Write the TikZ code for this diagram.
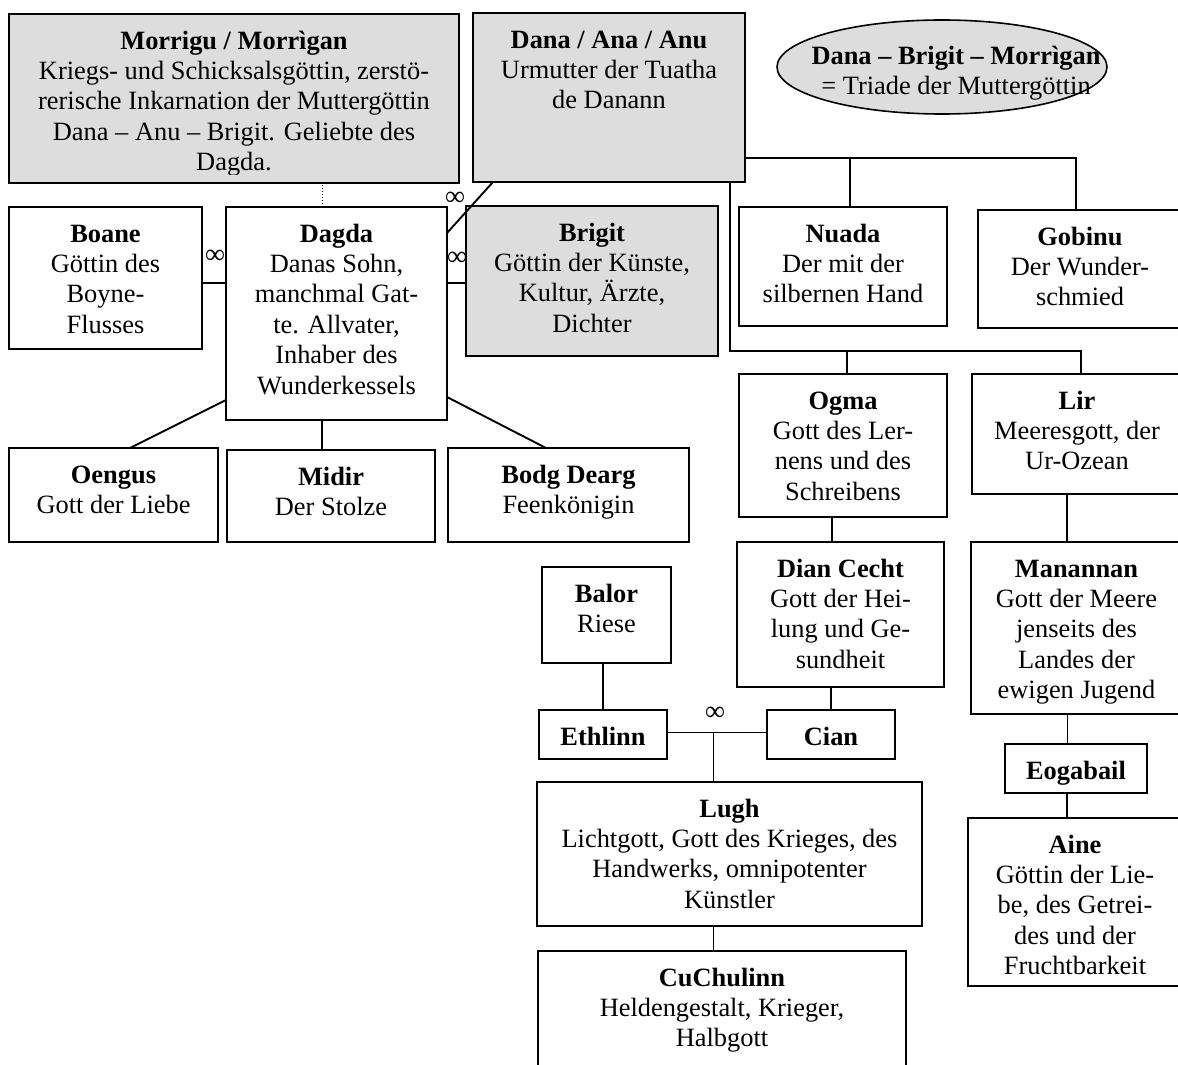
\documentclass[tikz,border=0pt]{standalone}
\usepackage{fontspec}
\setmainfont{Liberation Serif}
\usetikzlibrary{shapes.geometric}
\definecolor{boxgray}{RGB}{221,221,221}
\newcommand{\gtxt}[4]{\parbox[c][#2pt][t]{#1pt}{\centering\rule{0pt}{35pt}\textbf{#3}\\#4}}
\newcommand{\gname}[3]{\parbox[c][#2pt][t]{#1pt}{\centering\rule{0pt}{35pt}\textbf{#3}}}
\tikzset{
  god/.style={draw,line width=1.9pt,inner sep=0pt,outer sep=0pt,anchor=north west,font=\fontsize{26.4}{30.4}\selectfont},
  godgray/.style={god,fill=boxgray},
  link/.style={line width=1.9pt},
  wed/.style={inner sep=0pt,font=\fontsize{28}{30}\selectfont}
}
\begin{document}
\begin{tikzpicture}[x=1pt,y=-1pt]
\useasboundingbox (0,0) rectangle (1178,1065);
\clip (0,0) rectangle (1178,1065);
%mother goddesses
\node[godgray,minimum width=450pt,minimum height=169pt] (morrigu) at (9,14) {};
\begin{scope}
\clip (morrigu.north west) rectangle ([yshift=9pt]morrigu.south east);
\node[god,draw=none] (morrigu-txt) at (morrigu.north west) {\gtxt{450}{169}{Morrigu / Morrìgan}{Kriegs- und Schicksalsgöttin, zerstö-\\rerische Inkarnation der Muttergöttin\\Dana – Anu – Brigit. Geliebte des\\Dagda.}};
\end{scope}
\node[godgray] (dana) at (473,13) {\gtxt{272}{169}{Dana / Ana / Anu}{Urmutter der Tuatha\\de Danann}};
\node[ellipse,draw,fill=boxgray,line width=1.6pt,minimum width=330pt,minimum height=94pt,inner sep=0pt] (triade) at (942,67) {};
\node[anchor=base,align=center,font=\fontsize{26.4}{30.4}\selectfont] (triade-txt) at (956,95) {\textbf{Dana – Brigit – Morrìgan}\\= Triade der Muttergöttin};
%second row
\node[god] (boane) at (9,207) {\gtxt{193}{142}{Boane}{Göttin des\\Boyne-\\Flusses}};
\node[god] (dagda) at (226,207) {\gtxt{221}{213}{Dagda}{Danas Sohn,\\manchmal Gat-\\te. Allvater,\\Inhaber des\\Wunderkessels}};
\node[godgray] (brigit) at (466,206) {\gtxt{252}{150}{Brigit}{Göttin der Künste,\\Kultur, Ärzte,\\Dichter}};
\node[god] (nuada) at (739,207) {\gtxt{208}{119}{Nuada}{Der mit der\\silbernen Hand}};
\node[god] (gobinu) at (978,210) {\gtxt{204}{118}{Gobinu}{Der Wunder-\\schmied}};
%Dagda's children
\node[god] (oengus) at (9,448) {\gtxt{209}{94}{Oengus}{Gott der Liebe}};
\node[god] (midir) at (227,450) {\gtxt{208}{92}{Midir}{Der Stolze}};
\node[god] (bodg) at (448,448) {\gtxt{241}{94}{Bodg Dearg}{Feenkönigin}};
%right branch
\node[god] (ogma) at (739,374) {\gtxt{208}{143}{Ogma}{Gott des Ler-\\nens und des\\Schreibens}};
\node[god] (lir) at (972,374) {\gtxt{210}{120}{Lir}{Meeresgott, der\\Ur-Ozean}};
\node[god] (dian) at (737,542) {\gtxt{207}{145}{Dian Cecht}{Gott der Hei-\\lung und Ge-\\sundheit}};
\node[god] (manannan) at (971,542) {\gtxt{211}{172}{Manannan}{Gott der Meere\\jenseits des\\Landes der\\ewigen Jugend}};
\node[god] (balor) at (542,567) {\gtxt{129}{96}{Balor}{Riese}};
\node[god] (ethlinn) at (539,710) {\gname{128}{49}{Ethlinn}};
\node[god] (cian) at (767,710) {\gname{128}{49}{Cian}};
\node[god] (eogabail) at (1005,744) {\gname{142}{49}{Eogabail}};
\node[god] (aine) at (968,818) {\gtxt{214}{168}{Aine}{Göttin der Lie-\\be, des Getrei-\\des und der\\Fruchtbarkeit}};
\node[god] (lugh) at (537,782) {\gtxt{385}{144}{Lugh}{Lichtgott, Gott des Krieges, des\\Handwerks, omnipotenter\\Künstler}};
\node[god] (cuchulinn) at (538,951) {\gtxt{368}{130}{CuChulinn}{Heldengestalt, Krieger,\\Halbgott}};
%marriages
\draw[link] ([yshift=-5pt]boane.east) -- ([yshift=-5pt]boane.east -| dagda.west);
\draw[link] ([yshift=-2pt]brigit.west) -- ([yshift=-2pt]brigit.west -| dagda.east);
\draw[link] ([yshift=-26pt]dagda.north east) -- ([xshift=20pt]dana.south west);
\draw[line width=1pt,dotted] ([xshift=-14.5pt]dagda.north) -- ([xshift=-14.5pt]dagda.north |- morrigu.south);
\coordinate (ec) at ([yshift=2pt]ethlinn.east -| lugh.north);
\draw[link] ([yshift=2pt]ethlinn.east) -- ([yshift=2pt]ethlinn.east -| cian.west);
\node[wed] (inf1) at (215,257) {∞};
\node[wed] (inf2) at (457,259) {∞};
\node[wed] (inf3) at (455,199) {∞};
\node[wed] (inf4) at (715,714) {∞};
%descent
\draw[link] ([yshift=24pt]dana.south east) -| ([xshift=-4pt]gobinu.north);
\draw[link] ([xshift=7pt]nuada.north) |- ([yshift=24pt]dana.south east);
\draw[link] ([xshift=-15pt]dana.south east) |- ([xshift=4pt,yshift=23pt]lir.north) -- ([xshift=4pt]lir.north);
\draw[link] ([xshift=4pt]ogma.north) -- ++(0,-23);
\draw[link] ([xshift=-11pt]ogma.south) -- ([xshift=-11pt]ogma.south |- dian.north);
\draw[link] (cian.north) -- (cian.north |- dian.south);
\draw[link] ([xshift=-10pt]lir.south) -- ([xshift=-10pt]lir.south |- manannan.north);
\draw[link] ([xshift=-9pt]manannan.south) -- ([xshift=-9pt]manannan.south |- eogabail.north);
\draw[link] ([xshift=-9pt]eogabail.south) -- ([xshift=-9pt]eogabail.south |- aine.north);
\draw[link] (ethlinn.north) -- (ethlinn.north |- balor.south);
\draw[link] ([xshift=-16pt]lugh.north) -- ([xshift=-16pt]ec);
\draw[link] ([xshift=-16pt]lugh.south) -- ([xshift=-16pt]lugh.south |- cuchulinn.north);
\draw[link] ([yshift=20pt]dagda.south west) -- ([xshift=16.5pt]oengus.north);
\draw[link] ([xshift=-14.5pt]dagda.south) -- ([xshift=-14.5pt]dagda.south |- midir.north);
\draw[link] ([yshift=23pt]dagda.south east) -- ([xshift=-22.5pt]bodg.north);
\end{tikzpicture}
\end{document}
